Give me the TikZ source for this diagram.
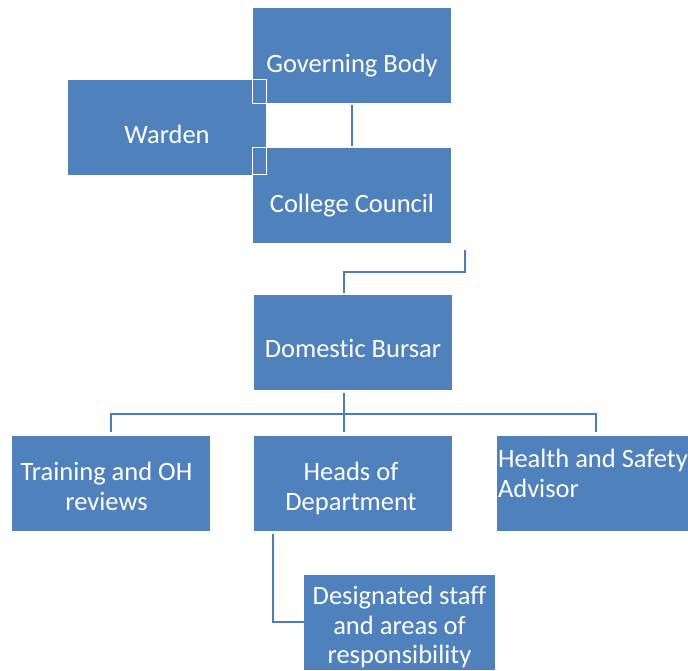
\documentclass[tikz,border=0pt]{standalone}
\usepackage{fontspec}
\setmainfont{Carlito}[RawFeature={-liga;-clig;-dlig;-calt}]
\usepackage{tikz}
\definecolor{boxblue}{HTML}{4F81BD}
\definecolor{lineblue}{HTML}{4A7EBB}
\newcommand{\boxfont}{\fontsize{26.5}{29.5}\selectfont}
\tikzstyle{box}=[fill=boxblue,minimum width=198pt,minimum height=95pt,inner sep=0pt]
\tikzstyle{caption}=[text=white,font=\boxfont,align=center,inner sep=0pt]
\tikzstyle{link}=[draw=lineblue,line width=2pt]
\tikzstyle{seam}=[draw=white,line width=1.3pt]

\begin{document}
\begin{tikzpicture}[x=1pt,y=-1pt]
  \useasboundingbox (0,0) rectangle (688,670);
  \node[box,label={[caption,yshift=-10pt]center:Governing Body}] (gov) at (352,55.5) {};
  \node[box,label={[caption,yshift=-10pt]center:College Council}] (council) at (352,195.5) {};
  \node[box,label={[caption,yshift=-7pt]center:Warden}] (warden) at (167,127) {};
  \node[box,label={[caption,yshift=-6pt]center:Domestic Bursar}] (bursar) at (353,342.5) {};
  \node[box,label={[caption,xshift=-4pt,yshift=-3.5pt]center:Training and OH\\reviews}] (train) at (110.5,483) {};
  \node[box,label={[caption,xshift=-2pt,yshift=-5.5pt]center:Heads of\\Department}] (heads) at (353,483) {};
  \node[box,label={[caption,align=left,anchor=north west,xshift=1pt,yshift=-14pt]north west:Health and Safety\\Advisor}] (health) at (596,483) {};
  \node[box,minimum width=191pt,label={[caption,yshift=-5pt]center:Designated staff\\and areas of\\responsibility}] (desig) at (399.5,622) {};
  % overlap marks
  \draw[seam] (gov.south west) rectangle (warden.north east);
  \draw[seam] (council.north west) rectangle (warden.south east);
  % connectors
  \coordinate (elbow) at (465,250);
  \coordinate (turn) at (344,272);
  \coordinate (fan) at (344,414);
  \coordinate (drop) at (273,623);
  \draw[link] ([yshift=-2pt]gov.south) -- ([yshift=2pt]council.north);
  \draw[link] (elbow) |- (turn) -- ([yshift=2pt]turn |- bursar.north);
  \draw[link] ([yshift=-3pt]fan |- bursar.south) -- ([yshift=3pt]fan |- heads.north);
  \draw[link] ([yshift=3pt]train.north) |- (fan -| health.north) -- ([yshift=3pt]health.north);
  \draw[link] ([yshift=-3pt]drop |- heads.south) |- (desig.west);
\end{tikzpicture}
\end{document}
